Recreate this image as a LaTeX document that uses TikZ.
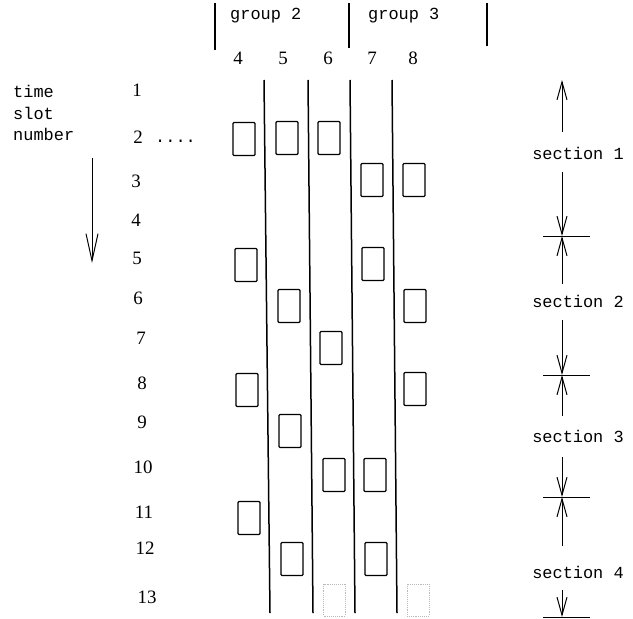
\documentclass[tikz,border=0pt]{standalone}
\usepackage{fontspec}
\setmainfont{Liberation Serif}
\setmonofont{Liberation Mono}
\usetikzlibrary{arrows.meta}
\begin{document}
\begin{tikzpicture}[x=1bp,y=-1bp,
  slotbox/.style={draw, line width=1.3bp, rounded corners=1bp, minimum width=22bp, minimum height=33bp, inner sep=0pt},
  ghostbox/.style={draw=gray!55, densely dotted, line width=0.9bp, minimum width=22bp, minimum height=32bp, inner sep=0pt},
  lbl/.style={font=\fontsize{17}{21.5}\selectfont\ttfamily, inner sep=0pt},
  num/.style={font=\fontsize{19}{22}\selectfont, inner sep=0pt},
  colline/.style={line width=1.5bp},
  grpline/.style={line width=1.3bp},
  secarrow/.style={line width=1bp, -{Straight Barb[length=18bp,width=10bp,line width=1bp]}},
  secbar/.style={line width=1bp}
]
\useasboundingbox (0,0) rectangle (633,619);

% header groups
\coordinate (g1t) at (215,3);   \coordinate (g1b) at (215,50);
\coordinate (g2t) at (349,3);   \coordinate (g2b) at (349,48);
\coordinate (g3t) at (487,3);   \coordinate (g3b) at (487,46);
\draw[grpline] (g1t) -- (g1b);
\draw[grpline] (g2t) -- (g2b);
\draw[grpline] (g3t) -- (g3b);
\node[lbl, anchor=base west] (grp2) at (230,20) {group 2};
\node[lbl, anchor=base west] (grp3) at (368,20) {group 3};

% column numbers
\node[num] (h4) at (238,58) {4};
\node[num] (h5) at (283,58) {5};
\node[num] (h6) at (328,58) {6};
\node[num] (h7) at (372,58) {7};
\node[num] (h8) at (413,58) {8};

% column separators
\coordinate (c1t) at (264,80); \coordinate (c1b) at (270,613);
\coordinate (c2t) at (308,80); \coordinate (c2b) at (313,613);
\coordinate (c3t) at (350,80); \coordinate (c3b) at (355,613);
\coordinate (c4t) at (392,80); \coordinate (c4b) at (397,613);
\draw[colline] (c1t) -- (c1b);
\draw[colline] (c2t) -- (c2b);
\draw[colline] (c3t) -- (c3b);
\draw[colline] (c4t) -- (c4b);

% time slot label and arrow
\node[lbl, anchor=west, align=left] (tsn) at (13,113) {time\\slot\\number};
\coordinate (ta) at (92,158);
\coordinate (tb) at (92,263);
\draw[line width=1bp, -{Straight Barb[length=27bp,width=12bp,line width=1bp]}] (ta) -- (tb);

% slot numbers
\node[num] (s1)  at (137,90)  {1};
\node[num] (s2)  at (138,137) {2};
\node[lbl, anchor=base west] (dots) at (155,143) {....};
\node[num] (s3)  at (136,181) {3};
\node[num] (s4)  at (136,220) {4};
\node[num] (s5)  at (137,258) {5};
\node[num] (s6)  at (138,298) {6};
\node[num] (s7)  at (141,338) {7};
\node[num] (s8)  at (142,383) {8};
\node[num] (s9)  at (142,422) {9};
\node[num] (s10) at (143,467) {10};
\node[num] (s11) at (144,512) {11};
\node[num] (s12) at (145,548) {12};
\node[num] (s13) at (147,597) {13};

% slot boxes
\node[slotbox] (b2a)  at (244,139) {};
\node[slotbox] (b2b)  at (287,138) {};
\node[slotbox] (b2c)  at (329,138) {};
\node[slotbox] (b3a)  at (372,180) {};
\node[slotbox] (b3b)  at (414,180) {};
\node[slotbox] (b5a)  at (246,265) {};
\node[slotbox] (b5b)  at (373,264) {};
\node[slotbox] (b6a)  at (289,306) {};
\node[slotbox] (b6b)  at (415,306) {};
\node[slotbox] (b7a)  at (331,348) {};
\node[slotbox] (b8a)  at (247,390) {};
\node[slotbox] (b8b)  at (415,389) {};
\node[slotbox] (b9a)  at (290,431) {};
\node[slotbox] (b10a) at (334,475) {};
\node[slotbox] (b10b) at (375,475) {};
\node[slotbox] (b11a) at (249,518) {};
\node[slotbox] (b12a) at (292,559) {};
\node[slotbox] (b12b) at (376,559) {};
\node[ghostbox] (b13a) at (334.5,600) {};
\node[ghostbox] (b13b) at (418,600) {};

% sections
\coordinate (q0) at (562,80);
\coordinate (q1) at (562,236);
\coordinate (q2) at (562,375);
\coordinate (q3) at (562,497);
\coordinate (q4) at (562,617);
\coordinate (k1l) at (543,236); \coordinate (k1r) at (590,236);
\coordinate (k2l) at (543,375); \coordinate (k2r) at (590,375);
\coordinate (k3l) at (543,497); \coordinate (k3r) at (590,497);
\coordinate (k4l) at (543,617); \coordinate (k4r) at (590,617);
\draw[secbar] (k1l) -- (k1r);
\draw[secbar] (k2l) -- (k2r);
\draw[secbar] (k3l) -- (k3r);
\draw[secbar] (k4l) -- (k4r);

\node[lbl, anchor=base] (sec1) at (578,160) {section 1};
\node[lbl, anchor=base] (sec2) at (578,307) {section 2};
\node[lbl, anchor=base] (sec3) at (578,442) {section 3};
\node[lbl, anchor=base] (sec4) at (578,578) {section 4};

\coordinate (u1) at (562,132); \coordinate (d1) at (562,172);
\coordinate (u2) at (562,284); \coordinate (d2) at (562,320);
\coordinate (u3) at (562,416); \coordinate (d3) at (562,457);
\coordinate (u4) at (562,546); \coordinate (d4) at (562,590);
\draw[secarrow] (u1) -- (q0);
\draw[secarrow] (d1) -- (q1);
\draw[secarrow] (u2) -- (q1);
\draw[secarrow] (d2) -- (q2);
\draw[secarrow] (u3) -- (q2);
\draw[secarrow] (d3) -- (q3);
\draw[secarrow] (u4) -- (q3);
\draw[secarrow] (d4) -- (q4);
\end{tikzpicture}
\end{document}
